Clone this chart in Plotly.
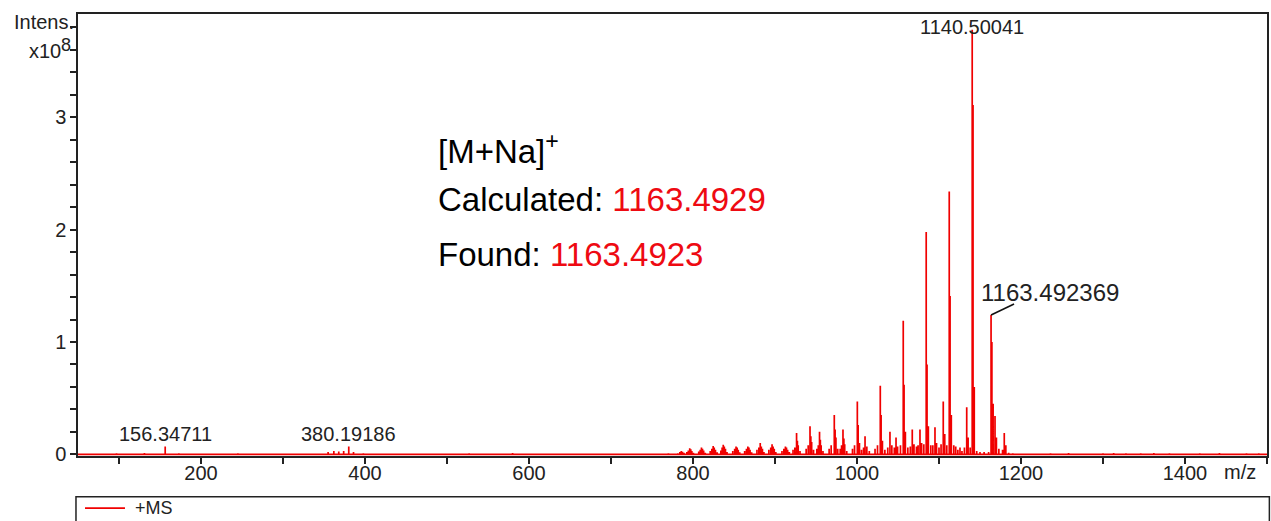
import plotly.graph_objects as go

# ---- spectrum data: m/z and intensity (x10^8) ----
low_mz = [62, 97, 118, 131, 156.34711, 173, 209, 231, 245, 281, 316, 341,
          355, 362, 368, 374, 380.19186, 386, 398, 430, 455, 482, 511, 527,
          552, 580, 603, 625, 640, 672, 710, 745, 770]
low_int = [0.006, 0.010, 0.006, 0.012, 0.070, 0.010, 0.008, 0.006, 0.010, 0.008,
           0.008, 0.006, 0.020, 0.030, 0.025, 0.030, 0.070, 0.020, 0.010, 0.008,
           0.006, 0.007, 0.006, 0.010, 0.006, 0.012, 0.007, 0.006, 0.006, 0.008,
           0.006, 0.008, 0.010]

env_mz = [781.5, 784.0, 785.7, 787.2, 789.0, 792.5, 794.3, 796.0, 797.3, 798.6,
          800.5, 807.0, 808.8, 810.3, 811.6, 813.0, 815.0, 821.0, 823.0, 824.6,
          825.9, 827.4, 829.5, 834.0, 835.5, 836.9, 838.2, 839.6, 841.5, 848.5,
          850.8, 852.5, 853.8, 855.2, 857.0, 863.0, 865.2, 866.9, 868.2, 869.6,
          871.5, 878.0, 880.3, 882.0, 883.3, 884.7, 886.5, 892.5, 894.8, 896.4,
          897.7, 899.1, 901.0, 908.5, 910.8, 912.7, 914.0, 915.4, 917.5, 922.0,
          924.2, 926.3, 927.3, 928.3, 930.5, 938.0, 940.5, 942.7, 943.7, 944.7,
          947.0, 951.0, 952.8, 954.3, 955.3, 956.3, 958.5, 966.0, 968.5, 972.3,
          973.3, 974.3, 976.5, 979.5, 981.2, 982.9, 984.0, 985.0, 987.5, 994.5,
          997.0, 1000.4, 1001.4, 1003.0, 1005.5, 1008.0, 1009.8, 1012.0, 1015.0,
          1022.0, 1025.0, 1028.4, 1029.4, 1031.0, 1034.0, 1037.5, 1040.2, 1042.5,
          1045.5, 1047.6, 1049.5, 1053.0, 1056.4, 1057.4, 1059.0, 1062.0, 1065.0,
          1067.4, 1069.5, 1072.5, 1074.5, 1076.8, 1078.8, 1081.5, 1084.4, 1085.4,
          1087.0, 1090.0, 1092.5, 1095.1, 1097.0, 1100.0, 1102.5, 1105.2, 1107.0,
          1109.5, 1112.5, 1113.5, 1115.0, 1118.0, 1120.4, 1123.0, 1125.6, 1128.0,
          1131.0, 1133.8, 1135.5, 1138.0, 1140.50041, 1141.5, 1143.0, 1146.0,
          1150.0, 1155.0, 1160.5, 1163.492369, 1164.5, 1166.0, 1168.3, 1170.0,
          1173.0, 1177.5, 1179.6, 1181.5, 1185.0]
env_int = [0.010, 0.020, 0.030, 0.022, 0.015, 0.020, 0.035, 0.055, 0.045, 0.030,
           0.015, 0.025, 0.040, 0.060, 0.050, 0.035, 0.015, 0.030, 0.050, 0.075,
           0.060, 0.040, 0.018, 0.035, 0.060, 0.085, 0.070, 0.050, 0.020, 0.030,
           0.050, 0.070, 0.060, 0.040, 0.018, 0.030, 0.050, 0.070, 0.060, 0.040,
           0.018, 0.040, 0.060, 0.100, 0.070, 0.050, 0.020, 0.040, 0.060, 0.090,
           0.070, 0.050, 0.020, 0.030, 0.050, 0.070, 0.060, 0.040, 0.020, 0.040,
           0.060, 0.190, 0.120, 0.080, 0.030, 0.050, 0.080, 0.250, 0.160, 0.110,
           0.040, 0.050, 0.080, 0.200, 0.130, 0.080, 0.030, 0.050, 0.080, 0.350,
           0.220, 0.150, 0.050, 0.050, 0.080, 0.220, 0.140, 0.090, 0.030, 0.050,
           0.080, 0.470, 0.260, 0.100, 0.040, 0.060, 0.160, 0.070, 0.030,
           0.050, 0.080, 0.610, 0.350, 0.120, 0.040, 0.060, 0.200, 0.080,
           0.060, 0.150, 0.070, 0.080, 1.190, 0.620, 0.200, 0.060, 0.070,
           0.220, 0.090, 0.070, 0.080, 0.220, 0.100, 0.090, 1.980, 0.800,
           0.250, 0.080, 0.080, 0.240, 0.100, 0.060, 0.090, 0.470, 0.180,
           0.080, 2.340, 1.410, 0.350, 0.080, 0.070, 0.040, 0.060, 0.030,
           0.060, 0.420, 0.150, 0.060, 3.780, 3.110, 0.600, 0.030,
           0.020, 0.020, 0.020, 1.240, 1.000, 0.450, 0.340, 0.150,
           0.050, 0.040, 0.190, 0.080, 0.015]

high_mz = [1190, 1207, 1236, 1258, 1284, 1300, 1313, 1328, 1346, 1362, 1381,
           1399, 1418, 1442, 1458, 1475, 1490]
high_int = [0.010, 0.008, 0.010, 0.012, 0.008, 0.010, 0.012, 0.010, 0.009,
            0.012, 0.010, 0.008, 0.010, 0.012, 0.008, 0.010, 0.009]

# annotated peaks
label_mz = [156.34711, 380.19186, 1140.50041]
label_text = ["156.34711", "380.19186", "1140.50041"]
label_yshift = [-1, -1, -10]
found_mz = 1163.492369
found_text = "1163.492369"

X_RANGE = [50, 1500]
Y_RANGE = [-0.015, 3.92]

RED = "#f00000"
INK = "#222222"
FONT = "Liberation Sans, Arial, sans-serif"

all_mz = low_mz + env_mz + high_mz
all_int = low_int + env_int + high_int
intensity_of = dict(zip(all_mz, all_int))
peaks = sorted(zip(all_mz, all_int))

# stick spectrum running along the baseline
xs, ys = [X_RANGE[0]], [0.0]
for m, h in peaks:
    xs += [m, m, m]
    ys += [0.0, h, 0.0]
xs.append(X_RANGE[1])
ys.append(0.0)

fig = go.Figure()
fig.add_trace(go.Scatter(
    x=xs, y=ys, mode="lines", name="+MS",
    line=dict(color=RED, width=1.7),
    showlegend=False, hoverinfo="skip",
))

annotations = []
for m, t, ysh in zip(label_mz, label_text, label_yshift):
    annotations.append(dict(
        x=m, y=intensity_of[m], xref="x", yref="y", text=t, showarrow=False,
        xanchor="center", yanchor="bottom", yshift=ysh,
        font=dict(family=FONT, size=20, color=INK),
    ))

annotations.append(dict(
    x=found_mz, y=intensity_of[found_mz], xref="x", yref="y", text=found_text,
    showarrow=False, xanchor="left", yanchor="middle", xshift=-12, yshift=23,
    font=dict(family=FONT, size=24, color=INK),
))

# formula / mass block
block_font = dict(family=FONT, size=33, color="#000000")
annotations += [
    dict(x=0.301, y=0.695, xref="paper", yref="paper", xanchor="left",
         yanchor="middle", showarrow=False, text="[M+Na]<sup>+</sup>",
         font=block_font),
    dict(x=0.301, y=0.581, xref="paper", yref="paper", xanchor="left",
         yanchor="middle", showarrow=False,
         text="Calculated: <span style='color:#ee0a12'>1163.4929</span>",
         font=block_font),
    dict(x=0.301, y=0.457, xref="paper", yref="paper", xanchor="left",
         yanchor="middle", showarrow=False,
         text="Found: <span style='color:#ee0a12'>1163.4923</span>",
         font=block_font),
]

# axis captions placed as in the instrument software
annotations += [
    dict(x=-0.002, y=3.8, xref="paper", yref="y", xanchor="right",
         yanchor="middle", yshift=5, showarrow=False, text="Intens.",
         font=dict(family=FONT, size=20, color=INK)),
    dict(x=-0.0125, y=3.6, xref="paper", yref="y", xanchor="right",
         yanchor="middle", yshift=-1, showarrow=False, text="x10",
         font=dict(family=FONT, size=20, color=INK)),
    dict(x=-0.0045, y=3.6, xref="paper", yref="y", xanchor="right",
         yanchor="middle", yshift=5, showarrow=False, text="8",
         font=dict(family=FONT, size=18, color=INK)),
    dict(x=0.977, y=-0.036, xref="paper", yref="paper", xanchor="center",
         yanchor="middle", showarrow=False, text="m/z",
         font=dict(family=FONT, size=20, color=INK)),
    # legend entry
    dict(x=0.0465, y=-0.118, xref="paper", yref="paper", xanchor="left",
         yanchor="middle", showarrow=False, text="+MS",
         font=dict(family=FONT, size=18, color=INK)),
]

axis_common = dict(
    showline=True, linecolor=INK, linewidth=1.5, mirror=True,
    showgrid=False, zeroline=False,
    ticks="outside", ticklen=6, tickwidth=1.5, tickcolor=INK,
    tickfont=dict(family=FONT, size=20, color=INK),
)

shapes = [
    # legend frame
    dict(type="rect", xref="paper", yref="paper",
         x0=-0.0017, x1=1.002, y0=-0.092, y1=-0.3,
         line=dict(color=INK, width=1.5), fillcolor="rgba(0,0,0,0)"),
    # legend line sample
    dict(type="line", xref="paper", yref="paper",
         x0=0.0059, x1=0.0395, y0=-0.118, y1=-0.118,
         line=dict(color=RED, width=1.7)),
    # leader line for the adduct label, anchored at the peak top
    dict(type="line", xref="x", yref="y",
         xsizemode="pixel", ysizemode="pixel",
         xanchor=found_mz, yanchor=intensity_of[found_mz],
         x0=0, x1=23, y0=0, y1=11,
         line=dict(color="#111111", width=1.6)),
]

fig.update_layout(
    width=1271, height=521,
    margin=dict(l=78, r=4, t=14, b=65, autoexpand=False),
    paper_bgcolor="white", plot_bgcolor="white",
    xaxis=dict(range=X_RANGE, tick0=0, dtick=200, ticklabelstandoff=-8,
               minor=dict(dtick=100, ticks="outside", ticklen=6,
                          tickwidth=1.5, tickcolor=INK),
               **axis_common),
    yaxis=dict(range=Y_RANGE, tick0=0, dtick=1,
               minor=dict(dtick=0.2, ticks="outside", ticklen=6,
                          tickwidth=1.5, tickcolor=INK),
               **axis_common),
    showlegend=False,
    shapes=shapes,
    annotations=annotations,
    font=dict(family=FONT),
)

fig.write_html("out.html")
